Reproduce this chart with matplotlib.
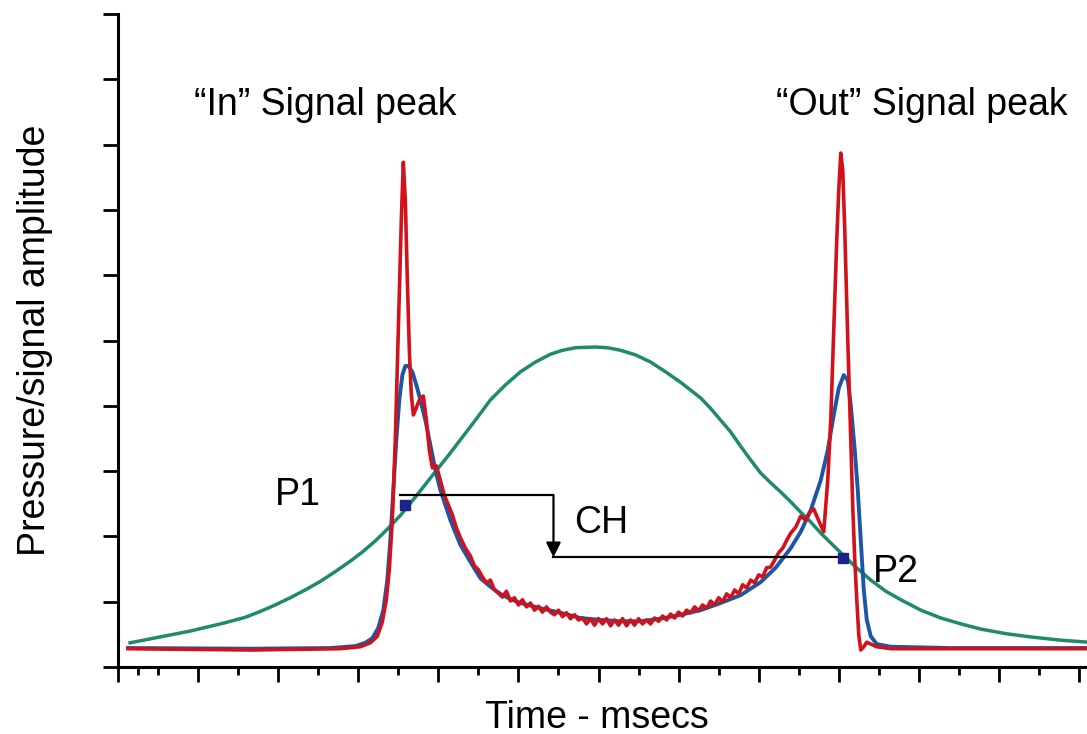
#! /usr/bin/env python3
# In/Out signal peaks with the CH transit marker.
import matplotlib
matplotlib.use('Agg')
import matplotlib.pyplot as plt
from matplotlib.ticker import MultipleLocator, FixedLocator

plt.rcParams['font.family'] = ['Liberation Sans', 'DejaVu Sans']

# Time (ms, arbitrary scale) and amplitude (arbitrary units).
green_t = [3.0, 10.5, 18, 26.25, 31.75, 35.5, 39.25, 43, 46.75, 50.5, 54.25,
           58, 61, 64.25, 67.25, 70.5, 74.75, 79.25, 82.25, 85.5, 89.25, 93,
           96.75, 100.5, 104.25, 108, 111, 114.25, 119.25, 122.25, 125.5,
           129.25, 133, 136.75, 140.5, 143, 145.5, 148, 150.5, 153, 155.5, 158,
           160.5, 163, 165.5, 168, 170.5, 173, 175.5, 178, 180.5, 184.25, 188,
           191.75, 195.5, 200.5, 205.5, 210.5, 215.5, 221.75, 228, 235.5, 242.25]
green_a = [3.7, 4.6, 5.5, 6.7, 7.6, 8.5, 9.5, 10.6, 11.8, 13.1, 14.6,
           16.2, 17.6, 19.3, 21.1, 23.2, 26.4, 29.9, 32.2, 34.8, 37.8, 40.9,
           43.2, 45.2, 46.7, 47.9, 48.5, 48.9, 49.0, 48.9, 48.5,
           47.8, 46.7, 45.2, 43.6, 42.4, 41.2, 39.6, 37.8, 36.0, 33.8, 31.7,
           29.7, 28.2, 26.8, 25.3, 23.7, 22.2, 20.5, 19.0, 17.5, 15.3, 13.3,
           11.6, 10.3, 8.7, 7.5, 6.6, 5.8, 5.1, 4.6, 4.1, 3.8]

blue_t = [2.5, 33, 53, 59.25, 61.75, 63.5, 65, 66.25, 67.25, 68, 68.75, 69.5,
          70.25, 71, 71.75, 72.5, 73.5, 74.5, 75.5, 76.75, 78, 79.25, 80.5, 83,
          85.5, 88, 90.5, 93, 95.5, 98, 100.5, 105.5, 110.5, 115.5, 120.5, 125.5,
          130.5, 135.5, 140.5, 145.5, 150.5, 155.5, 160.5, 164.25, 168, 170.5,
          173, 175.5, 177.25, 178.75, 180, 181.25, 182.25, 183, 184, 184.75,
          185.5, 186.25, 187, 188, 189.5, 193, 208, 242.25]
blue_a = [2.9, 2.8, 2.9, 3.2, 3.7, 4.4, 6.0, 8.7, 13.3, 19.4, 27.1, 34.8,
          40.9, 44.7, 46.1, 46.1, 45.2, 43.2, 40.9, 37.8, 34.0, 30.2, 27.1, 22.5,
          18.7, 16.1, 13.6, 12.3, 11.2, 10.4, 9.8, 9.0, 8.3, 7.5, 7.2, 7.0,
          7.0, 7.4, 8.0, 8.7, 9.8, 11.0, 13.0, 15.2, 18.2, 20.7,
          24.0, 28.6, 33.2, 38.6, 42.7, 44.7, 43.9, 40.1, 33.2, 27.1,
          19.4, 11.8, 7.2, 4.7, 3.5, 3.1, 2.9, 2.9]

red_t = [2.5, 33, 55.5, 60.5, 63, 64.75, 66, 67, 67.75, 68.5, 69.25, 70,
         70.75, 71.25, 71.75, 72.25, 72.75, 73.25, 73.75, 74.5, 75.25, 76.25,
         77, 77.75, 78.5, 79.5, 80.5, 81.5, 82.5, 83.5, 84.5, 85.5,
         86.75, 88, 89, 90, 91, 92, 93, 94, 95, 96, 97, 98, 99, 100, 101, 102,
         103, 104, 105, 106, 107, 108, 109, 110, 111, 112, 113, 114, 115, 116,
         117, 118, 119, 120, 121, 122, 123, 124, 125, 126, 127, 128, 129, 130,
         131, 132, 133, 134, 135, 136, 137, 138, 139, 140, 141, 142, 143, 144,
         145, 146, 147, 148, 149, 150, 151, 152, 153, 154, 155, 156, 157, 158,
         159, 160, 161, 162, 163, 164, 165, 166, 167, 168, 169.25, 170.5,
         171.75, 172.75, 173.75, 175, 176.25, 177.25, 178, 178.75, 179.5, 180,
         180.5, 181, 181.5, 182.25, 183, 183.5, 184, 184.5, 185, 185.5, 186.25,
         187, 188, 189.5, 193, 242.25]
red_a = [2.8, 2.6, 2.8, 3.1, 3.7, 4.7, 6.9, 10.3, 14.9, 22.5, 34.8, 51.6,
         68.5, 77.3, 71.5, 59.3, 48.5, 41.7, 38.6, 39.7, 40.9, 41.5,
         37.8, 33.2, 30.5, 30.8, 28.6, 26.3, 24.8, 23.3, 21.3, 19.8,
         18.2, 17.0, 15.5, 14.9, 13.8, 12.9, 13.3, 11.8, 11.3, 10.7, 11.6, 10.1,
         10.6, 9.5, 10.3, 9.2, 9.8, 8.7, 9.3, 8.4, 9.2, 8.4, 8.0, 8.7, 7.7, 8.3,
         7.4, 8.0, 7.2, 7.5, 6.6, 7.4, 6.4, 7.4, 6.6, 7.4, 6.3, 7.2, 6.4, 7.4,
         6.3, 7.2, 6.4, 7.4, 6.6, 7.2, 6.6, 7.5, 7.0, 7.8, 7.2, 8.1, 7.5, 8.4,
         7.8, 8.7, 8.3, 9.2, 8.6, 9.5, 9.0, 10.1, 9.5, 10.6, 10.0, 11.2, 10.6,
         11.8, 11.2, 12.6, 12.1, 13.3, 12.9, 14.1, 13.8, 15.2, 15.3, 16.4, 17.5,
         18.2, 19.4, 20.5, 21.4, 23.1, 22.5, 23.7, 24.2, 22.4, 20.7, 28.6, 37.8,
         51.6, 65.4, 73.0, 78.7, 76.1, 66.9, 50.1, 34.8, 24.5, 16.4, 10.3, 4.9,
         2.6, 3.1, 3.8, 3.5, 3.1, 2.8, 2.8]

# P1 / P2 points and the CH transit line levels
p_t = [71.75, 181]
p_a = [24.8, 16.7]
ch_t = [70.5, 108.75, 180.5]
ch_a = [26.3, 16.8]

fig = plt.figure(figsize=(10.87, 7.34), dpi=100)
ax = fig.add_axes([0.1086, 0.0913, 0.8914, 0.8896])

ax.plot(green_t, green_a, color='#1f8a6e', lw=2.5, zorder=2)
ax.plot(blue_t, blue_a, color='#1b56a8', lw=2.8, zorder=3,
        solid_joinstyle='round')
ax.plot(red_t, red_a, color='#d2121a', lw=2.6, zorder=4,
        solid_joinstyle='round')

# CH connector: across from P1, down, then across to P2
ax.plot([ch_t[0], ch_t[1]], [ch_a[0], ch_a[0]], color='black', lw=1.6, zorder=5)
ax.annotate('', xy=(ch_t[1], ch_a[1]), xytext=(ch_t[1], ch_a[0]),
            arrowprops=dict(arrowstyle='-|>', color='black', lw=1.6,
                            mutation_scale=22, shrinkA=0, shrinkB=0), zorder=5)
ax.plot([ch_t[1], ch_t[2]], [ch_a[1], ch_a[1]], color='black', lw=1.6, zorder=5)
ax.plot(p_t, p_a, linestyle='none', marker='s', ms=7, color='#1c238c', zorder=6)

fs = 27
ax.text(51.75, 86.1, '\u201cIn\u201d Signal peak', fontsize=fs, ha='center', va='center')
ax.text(200.75, 86.1, '\u201cOut\u201d Signal peak', fontsize=fs, ha='center', va='center')
ax.text(45, 26.3, 'P1', fontsize=fs, ha='center', va='center')
ax.text(120.75, 22.1, 'CH', fontsize=fs, ha='center', va='center')
ax.text(194.25, 14.5, 'P2', fontsize=fs, ha='center', va='center')

fig.text(35 / 1087, 1 - 340 / 734, 'Pressure/signal amplitude', fontsize=fs,
         rotation=90, ha='center', va='center')
fig.text(597 / 1087, 1 - 718 / 734, 'Time - msecs', fontsize=fs,
         ha='center', va='center')

ax.set_xlim(0, 242)
ax.set_ylim(0, 100)
ax.xaxis.set_major_locator(MultipleLocator(20))
ax.xaxis.set_minor_locator(FixedLocator([5] + list(range(10, 241, 20))))
ax.yaxis.set_major_locator(MultipleLocator(10))
ax.tick_params(which='major', direction='out', length=11, width=2,
               labelbottom=False, labelleft=False)
ax.tick_params(which='minor', direction='out', length=6, width=2)

for spine in 'right', 'top':
    ax.spines[spine].set_visible(False)
for spine in 'left', 'bottom':
    ax.spines[spine].set_linewidth(2.2)

fig.savefig('out.png', dpi=100)
